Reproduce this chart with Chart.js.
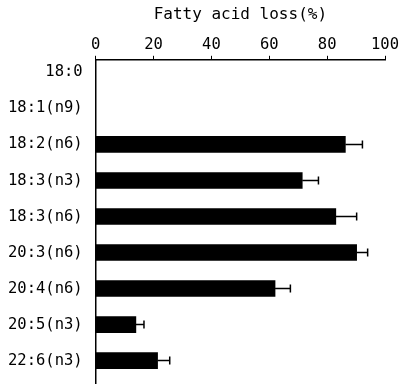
<!DOCTYPE html>
<html>
<head>
<meta charset="utf-8">
<script src="https://cdn.jsdelivr.net/npm/chart.js@4.4.0/dist/chart.umd.min.js"></script>
<style>
  html, body { margin: 0; padding: 0; background: #fff; }
  #wrap { width: 401px; height: 384px; }
</style>
</head>
<body>
<div id="wrap"><canvas id="lossChart"></canvas></div>
<script>
const acids = ['18:0', '18:1(n9)', '18:2(n6)', '18:3(n3)', '18:3(n6)', '20:3(n6)', '20:4(n6)', '20:5(n3)', '22:6(n3)'];
const lossPct = [null, null, 86.3, 71.4, 83, 90.2, 62, 13.9, 21.4];
const lossErr = [0, 0, 5.9, 5.6, 7.2, 3.8, 5.3, 2.8, 4.2];
const xTicks = [0, 20, 40, 60, 80, 100];

const monoFont = { family: '"DejaVu Sans Mono", monospace', size: 15.5, weight: 'normal' };

// error whiskers to the right of each bar
const errorBars = {
    id: 'errorBars',
    afterDatasetsDraw(chart) {
        const ctx = chart.ctx;
        const xs = chart.scales.x;
        const meta = chart.getDatasetMeta(0);
        ctx.save();
        ctx.strokeStyle = '#000';
        ctx.lineWidth = 1.5;
        meta.data.forEach((bar, i) => {
            if (lossPct[i] == null || !lossErr[i]) return;
            const x0 = xs.getPixelForValue(lossPct[i]);
            const x1 = xs.getPixelForValue(lossPct[i] + lossErr[i]);
            const y = bar.y;
            ctx.beginPath();
            ctx.moveTo(x0, y);
            ctx.lineTo(x1, y);
            ctx.moveTo(x1, y - 4);
            ctx.lineTo(x1, y + 4);
            ctx.stroke();
        });
        ctx.restore();
    }
};

new Chart(document.getElementById('lossChart'), {
    type: 'bar',
    data: {
        datasets: [{
            data: acids.map((a, i) => ({ x: lossPct[i], y: i })),
            backgroundColor: '#000',
            borderWidth: 0,
            barThickness: 16
        }]
    },
    options: {
        indexAxis: 'y',
        responsive: true,
        maintainAspectRatio: false,
        animation: false,
        layout: { padding: { left: 3, right: 0, top: 0, bottom: 0 } },
        plugins: {
            legend: { display: false },
            tooltip: { enabled: false }
        },
        scales: {
            x: {
                position: 'top',
                min: 0,
                max: 100,
                title: {
                    display: true,
                    text: 'Fatty acid loss(%)',
                    color: '#000',
                    font: { family: '"DejaVu Sans Mono", monospace', size: 16, weight: 'normal' },
                    padding: { top: 5, bottom: 9 }
                },
                ticks: {
                    stepSize: 10,
                    color: '#000',
                    font: monoFont,
                    padding: 2,
                    maxRotation: 0,
                    callback: v => xTicks.includes(v) ? String(v) : ''
                },
                grid: { drawOnChartArea: false, drawTicks: true, tickLength: 4, color: '#000' },
                border: { display: true, color: '#000', width: 1.5 }
            },
            y: {
                type: 'linear',
                reverse: true,
                offset: false,
                min: -0.35,
                max: 8.65,
                afterBuildTicks: scale => { scale.ticks = acids.map((a, i) => ({ value: i })); },
                afterFit: scale => { scale.paddingBottom = 0; },
                ticks: {
                    color: '#000',
                    font: monoFont,
                    padding: 5,
                    callback: v => acids[v]
                },
                grid: { display: false },
                border: { display: true, color: '#000', width: 1.5 }
            }
        }
    },
    plugins: [errorBars]
});
</script>
</body>
</html>
